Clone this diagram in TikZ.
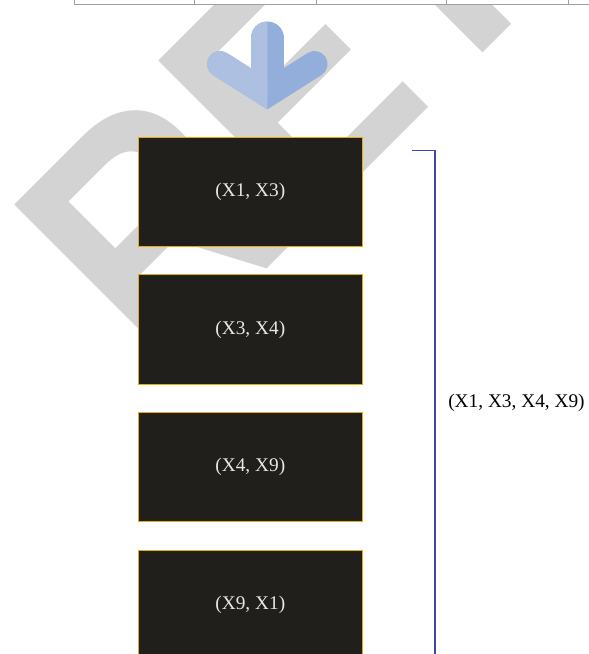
\documentclass[tikz,border=0pt]{standalone}
\usepackage{fontspec}
\setmainfont{Liberation Serif}
\newfontfamily\markfont{Liberation Sans}
\usetikzlibrary{positioning}

\definecolor{markgray}{HTML}{D3D3D3}
\definecolor{tablegray}{HTML}{A0A0A0}
\definecolor{boxfill}{HTML}{201F1B}
\definecolor{boxedge}{HTML}{E0AC10}
\definecolor{boxtext}{HTML}{E8E8E8}
\definecolor{arrowlight}{HTML}{AEC0E2}
\definecolor{arrowdark}{HTML}{93AEDB}
\definecolor{bracketblue}{HTML}{3F48A0}

\tikzset{
    pairbox/.style={rectangle, draw=boxedge, fill=boxfill, line width=0.8pt,
        minimum width=168pt, minimum height=82pt, text=boxtext,
        font=\fontsize{14.5pt}{17pt}\selectfont},
    pairlabel/.style={text=black, font=\fontsize{14.5pt}{17pt}\selectfont},
    watermark/.style={text=markgray, inner sep=0pt, outer sep=0pt,
        font=\markfont\bfseries\fontsize{211.5pt}{211.5pt}\selectfont}
}

\begin{document}
\begin{tikzpicture}[x=0.75pt, y=-0.75pt, node distance=20.4pt]
    \useasboundingbox (0,0) rectangle (589,654);
    \clip (0,0) rectangle (589,654);

    % watermark
    \node[watermark, anchor=base west, rotate=45, yscale=1.153] (mark) at (159.6,376.4) {RETRACTED};

    % end of the table above
    \fill[white] (74.4,0) rectangle (589,4.7);
    \draw[tablegray, line width=0.9pt] (74.4,4.7) -- (589,4.7);
    \foreach \x in {74.4,194.6,316.7,446.7,568.8}
        \draw[tablegray, line width=0.9pt] (\x,0) -- (\x,4.7);

    % down arrow, light left half
    \foreach \col/\cut in {arrowdark/589, arrowlight/267.3} {
        \begin{scope}
            \clip (0,0) rectangle (\cut,654);
            \draw[\col, line width=19.5pt, line cap=round, line join=miter] (220,64) -- (267.3,94) -- (314.6,64);
            \draw[\col, line width=24.75pt, line cap=round] (267.3,38) -- (267.3,80);
        \end{scope}
    }

    % pairs
    \node[pairbox] (pair1) at (250.3,192) {(X1, X3)};
    \node[pairbox, below=of pair1] (pair2) {(X3, X4)};
    \node[pairbox, below=of pair2] (pair3) {(X4, X9)};
    \node[pairbox, below=of pair3] (pair4) {(X9, X1)};

    % bracket
    \coordinate (brackettop) at (412,150.7);
    \coordinate (bracketend) at (435,654);
    \draw[bracketblue, line width=0.8pt] (brackettop) -| (bracketend);
    \node[pairlabel] (alllabel) at (516.5,403) {(X1, X3, X4, X9)};
\end{tikzpicture}
\end{document}
